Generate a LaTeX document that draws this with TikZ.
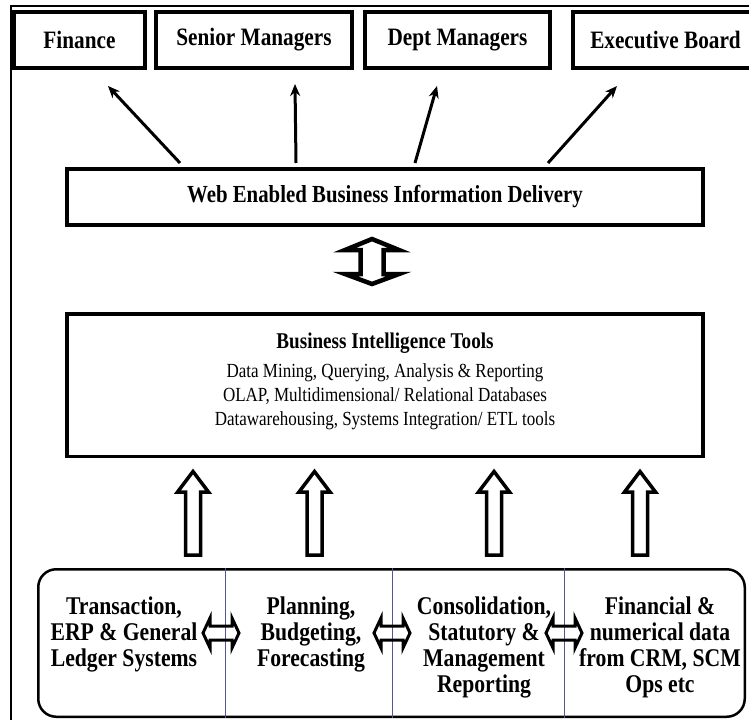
\documentclass[tikz,border=0pt]{standalone}
\usepackage{fontspec}
\setmainfont{Liberation Serif}[FakeStretch=0.85]
\usetikzlibrary{arrows.meta}
\definecolor{dividerBlue}{HTML}{55558F}

\begin{document}
\begin{tikzpicture}[x=1pt, y=-1pt, >={Stealth[length=12pt,width=10pt]},
    topbox/.style={draw, line width=4pt, minimum height=56pt, inner sep=0pt,
        font=\bfseries\fontsize{25}{28}\selectfont},
    mainbox/.style={draw, minimum width=636pt, inner sep=0pt},
    colText/.style={anchor=north, align=center, inner sep=0pt,
        font=\bfseries\fontsize{25.5}{26}\selectfont},
    hollow/.style={draw, line width=3.5pt, line join=miter},
    feed/.style={->, line width=3pt}]

    \useasboundingbox (0,0) rectangle (749,720);

    % outer frame
    \draw[line width=2.5pt] (749,6) -- (11,6) -- (11,720);

    % audience boxes
    \node[topbox, minimum width=131pt] (finance) at (79.5,40) {Finance};
    \node[topbox, minimum width=196pt] (senior) at (254,40) {Senior Managers};
    \node[topbox, minimum width=185pt] (dept) at (457.5,40) {Dept Managers};
    \node[topbox, minimum width=185pt] (board) at (665.5,40) {Executive Board};

    % delivery layer
    \node[mainbox, line width=4pt, minimum height=56pt,
        font=\bfseries\fontsize{24.5}{28}\selectfont] (web) at (385,197)
        {Web Enabled Business Information Delivery};

    \draw[feed] ([xshift=-205pt, yshift=4pt]web.north) -- ([xshift=28.5pt, yshift=-16pt]finance.south);
    \draw[feed] ([xshift=-89pt, yshift=4pt]web.north) -- ([xshift=41pt, yshift=-14pt]senior.south);
    \draw[feed] ([xshift=30pt, yshift=4pt]web.north) -- ([xshift=-20.5pt, yshift=-16pt]dept.south);
    \draw[feed] ([xshift=163pt, yshift=4pt]web.north) -- ([xshift=-48.5pt, yshift=-16pt]board.south);

    % two-way link web <-> BI
    \draw[hollow, line width=4.5pt] (372,239) -- ++(27,11) -- ++(-15.5,0) -- ++(0,24)
        -- ++(15.5,0) -- ++(-27,10) -- ++(-27,-10) -- ++(15.5,0) -- ++(0,-24)
        -- ++(-15.5,0) -- cycle;

    % BI layer
    \node[mainbox, line width=3.5pt, minimum height=142.5pt] (bi) at (385,385) {};
    \node[align=center, inner sep=0pt, font=\fontsize{20}{24}\selectfont] (bitext) at (385,381)
        {{\bfseries\fontsize{22.5}{28}\selectfont Business Intelligence Tools}\\[5pt]
         Data Mining, Querying, Analysis \& Reporting\\
         OLAP, Multidimensional/ Relational Databases\\
         Datawarehousing, Systems Integration/ ETL tools};

    % feeds into BI
    \foreach \cx in {193,314.5,494,640} {
        \draw[hollow] (\cx,471.5) -- ++(15.5,20.5) -- ++(-8,0) -- ++(0,63)
            -- ++(-15,0) -- ++(0,-63) -- ++(-8,0) -- cycle;
    }

    % source systems
    \node[draw, line width=2.5pt, rounded corners=18pt, minimum width=706.5pt,
        minimum height=147.5pt] (src) at (391.5,643) {};
    \foreach \x in {225,392,564} {
        \draw[dividerBlue, line width=0.8pt] (src.north -| \x,0) -- (src.south -| \x,0);
    }

    \node[colText] (ledger) at (124,597) {Transaction,\\ERP \& General\\Ledger Systems};
    \node[colText] (planning) at (311,597) {Planning,\\Budgeting,\\Forecasting};
    \node[colText] (consol) at (484,597) {Consolidation,\\Statutory \&\\Management\\Reporting};
    \node[colText] (crm) at (660,597) {Financial \&\\numerical data\\from CRM, SCM\\Ops etc};

    % side links between sources
    \foreach \cx in {221,392,564} {
        \draw[hollow, line width=3pt] ({\cx-18},633) -- ++(7,-15) -- ++(0,8) -- ++(22,0)
            -- ++(0,-8) -- ++(7,15) -- ++(-7,15) -- ++(0,-8) -- ++(-22,0)
            -- ++(0,8) -- cycle;
    }

\end{tikzpicture}
\end{document}
